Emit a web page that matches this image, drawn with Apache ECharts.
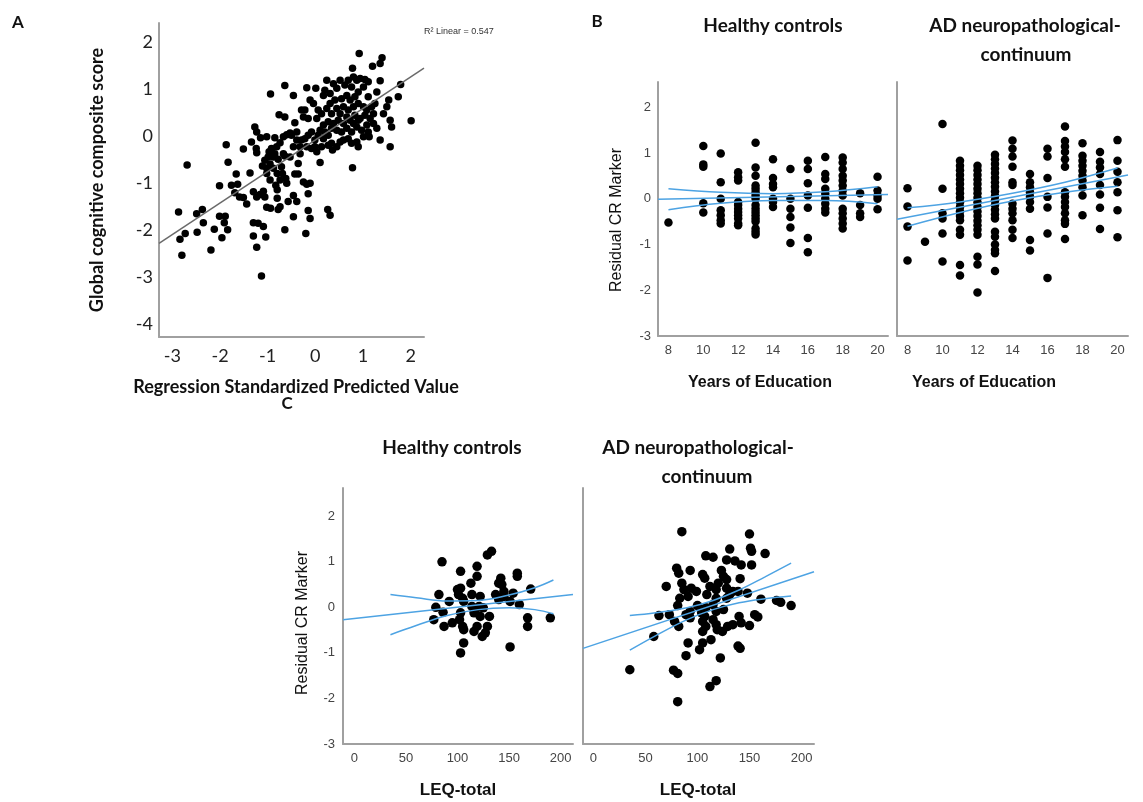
<!DOCTYPE html>
<html>
<head>
<meta charset="utf-8">
<script src="https://cdn.jsdelivr.net/npm/echarts@6/dist/echarts.min.js"></script>
<style>
  html, body { margin: 0; padding: 0; background: #fff; }
  #chart { width: 1143px; height: 802px; }
</style>
</head>
<body>
<div id="chart"></div>
<script>
// ---- Panel A: predicted vs observed global cognition ----
const aTicksX = [-3, -2, -1, 0, 1, 2];
const aTicksY = [-4, -3, -2, -1, 0, 1, 2];
const aPoints = [
  [-2.87,-1.62],[-2.84,-2.2],[-2.73,-2.08],[-2.8,-2.54],[-2.69,-0.62],[-2.49,-1.66],[-2.37,-1.57],[-2.48,-2.05],
  [-2.35,-1.85],[-2.12,-1.99],[-2.19,-2.43],[-2.01,-1.71],[-1.89,-1.71],[-1.91,-1.85],[-1.84,-2.0],[-1.96,-2.17],
  [-2.01,-1.06],[-1.87,-0.19],[-1.83,-0.56],[-1.76,-1.05],[-1.63,-1.03],[-1.66,-0.81],[-1.69,-1.21],[-1.59,-1.3],
  [-1.51,-1.31],[-1.44,-1.45],[-1.51,-0.28],[-1.37,-0.79],[-1.34,-0.13],[-1.27,0.19],[-1.23,0.08],[-1.24,-0.27],
  [-1.23,-0.36],[-1.15,-0.04],[-1.02,-0.02],[-0.94,0.89],[-1.3,-1.19],[-1.23,-1.3],[-1.16,-1.25],[-1.09,-1.18],
  [-1.3,-1.85],[-1.2,-1.86],[-1.09,-1.93],[-1.3,-2.13],[-1.23,-2.37],[-1.04,-2.15],[-1.13,-2.98],[-1.06,-1.3],
  [-1.02,-0.69],[-0.95,-0.6],[-0.99,-0.45],[-0.88,-0.45],[-0.85,-0.04],[-0.81,-0.23],[-0.74,-0.15],[-0.85,-0.38],
  [-0.78,-0.5],[-0.71,-0.66],[-0.8,-0.8],[-0.74,-0.94],[-0.83,-1.05],[-0.95,-0.94],[-1.02,-0.8],[-0.88,-0.69],
  [-0.8,-1.15],[-0.8,-1.33],[-1.02,-1.52],[-0.94,-1.54],[-0.78,-1.57],[-0.74,-1.51],[-0.67,-0.38],[-0.64,-0.43],
  [-0.69,-0.8],[-0.62,-0.91],[-0.6,-1.01],[-0.76,0.45],[-0.64,0.4],[-0.64,1.07],[-0.46,0.86],[-0.67,-0.02],
  [-0.6,0.02],[-0.53,0.06],[-0.43,0.28],[-0.46,-0.23],[-0.53,-0.45],[-0.43,-0.81],[-0.36,-0.81],[-0.46,-1.27],
  [-0.57,-1.4],[-0.46,-1.72],[-0.64,-2.0],[-0.39,-1.4],[-0.25,-0.98],[-0.18,-1.03],[-0.15,-1.23],[-0.11,-1.01],
  [-0.15,-1.59],[-0.11,-1.76],[-0.2,-2.08],[0.1,-0.57],[0.26,-1.57],[0.31,-1.69],[0.78,-0.68],[-0.32,-0.38],
  [-0.36,-0.59],[-0.32,-0.23],[-0.29,-0.09],[-0.39,-0.09],[-0.22,-0.06],[-0.15,0.01],[-0.08,0.08],[-0.18,-0.23],
  [-0.08,-0.27],[-0.01,-0.23],[0.03,-0.34],[0.13,-0.23],[-0.01,-0.09],[0.06,0.01],[0.17,-0.06],[0.2,0.08],
  [0.27,0.01],[0.27,-0.2],[0.34,-0.16],[0.36,-0.3],[0.45,-0.23],[0.52,-0.13],[0.59,-0.09],[0.69,-0.06],
  [0.76,-0.16],[0.87,-0.13],[0.9,-0.23],[1.01,-0.02],[1.13,-0.02],[1.36,-0.09],[1.57,-0.23],[1.57,0.33],
  [1.6,0.19],[2.01,0.32],[1.74,0.83],[1.79,1.09],[0.92,1.75],[1.36,1.54],[1.4,1.66],[1.2,1.48],
  [0.78,1.44],[0.8,1.25],[1.36,1.17],[1.29,0.93],[1.11,0.83],[1.54,0.76],[1.5,0.62],[1.43,0.47],
  [0.24,1.18],[-0.18,1.02],[0.01,1.01],[-0.11,0.76],[-0.22,0.55],[-0.25,0.4],[-0.15,0.37],[-0.04,0.69],
  [0.06,0.55],[0.03,0.37],[0.13,0.47],[0.17,0.86],[0.2,0.97],[0.31,0.9],[0.38,1.11],[0.45,1.01],
  [0.52,1.18],[0.62,1.08],[0.69,1.18],[0.76,1.04],[0.87,1.18],[0.94,1.22],[1.04,1.2],[1.11,1.15],
  [1.01,1.04],[0.9,0.93],[0.83,0.83],[0.73,0.76],[0.66,0.86],[0.55,0.79],[0.41,0.76],[0.31,0.69],
  [0.24,0.58],[0.34,0.47],[0.45,0.58],[0.52,0.47],[0.59,0.62],[0.69,0.55],[0.8,0.62],[0.9,0.69],
  [1.01,0.62],[1.08,0.55],[1.18,0.62],[1.25,0.69],[1.22,0.47],[1.15,0.37],[1.04,0.44],[0.94,0.37],
  [0.83,0.44],[0.73,0.33],[0.66,0.4],[0.59,0.26],[0.48,0.33],[0.38,0.26],[0.27,0.3],[0.17,0.23],
  [0.1,0.12],[0.34,0.16],[0.45,0.12],[0.55,0.08],[0.66,0.16],[0.76,0.08],[0.87,0.19],[0.97,0.12],
  [1.08,0.23],[1.22,0.26],[1.29,0.16],[1.11,0.08],[0.8,0.26],[0.9,0.33],[-0.29,0.55],[-0.39,0.08],
  [-0.5,0.01],[-0.92,-0.27],[-0.97,-0.34],[-1.06,-0.52],[-1.11,-0.64]
];
const aFitLine = [[-3.28, -2.29], [2.28, 1.44]];

// ---- Panel B: years of education vs residual CR marker ----
const eduTicks = [8, 10, 12, 14, 16, 18, 20];
const resTicks = [-3, -2, -1, 0, 1, 2];
const hcEduYears = [8, 10, 11, 12, 13, 14, 15, 16, 17, 18, 19, 20];
const hcEduRes = [
  [-0.52],
  [1.15, 0.75, 0.7, -0.1, -0.3],
  [0.99, 0.36, 0, -0.25, -0.36, -0.47, -0.54],
  [0.58, 0.47, 0.4, -0.07, -0.14, -0.22, -0.29, -0.36, -0.43, -0.54, -0.58],
  [1.22, 0.68, 0.5, 0.29, 0.22, 0.14, 0.07, 0, -0.14, -0.22, -0.29, -0.36, -0.43, -0.5, -0.65, -0.72, -0.78],
  [0.86, 0.45, 0.32, 0.25, 0, -0.07, -0.18],
  [0.65, 0, -0.22, -0.4, -0.63, -0.97],
  [0.83, 0.65, 0.34, 0.07, -0.2, -0.86, -1.17],
  [0.91, 0.54, 0.43, 0.22, 0.11, 0, -0.11, -0.22, -0.3],
  [0.9, 0.79, 0.65, 0.5, 0.4, 0.29, 0.18, 0.07, -0.22, -0.32, -0.43, -0.54, -0.65],
  [0.12, -0.14, -0.32, -0.4],
  [0.48, 0.18, 0.07, 0, -0.23]
];
const adEduYears = [8, 9, 10, 11, 12, 13, 14, 15, 16, 17, 18, 19, 20];
const adEduRes = [
  [0.23, -0.17, -0.61, -1.35],
  [-0.94],
  [1.63, 0.22, -0.32, -0.43, -0.76, -1.37],
  [0.83, 0.72, 0.62, 0.52, 0.42, 0.32, 0.22, 0.12, 0.02, -0.08, -0.18, -0.28, -0.38, -0.47, -0.68, -0.79, -1.45, -1.68],
  [0.72, 0.62, 0.52, 0.42, 0.32, 0.22, 0.12, 0.02, -0.08, -0.18, -0.28, -0.38, -0.48, -0.58, -0.68, -0.79, -1.27, -1.44, -2.05],
  [0.96, 0.86, 0.76, 0.66, 0.56, 0.46, 0.36, 0.26, 0.16, 0.06, -0.04, -0.14, -0.24, -0.34, -0.43, -0.72, -0.83, -1.0, -1.12, -1.19, -1.58],
  [1.27, 1.09, 0.92, 0.7, 0.36, 0.3, -0.11, -0.22, -0.32, -0.47, -0.68, -0.86],
  [0.54, 0.36, 0.25, 0.14, 0.04, -0.07, -0.22, -0.9, -1.13],
  [1.09, 0.92, 0.45, 0.04, -0.19, -0.76, -1.73],
  [1.58, 1.26, 1.14, 1.02, 0.86, 0.7, 0.14, 0.04, -0.07, -0.18, -0.32, -0.47, -0.55, -0.88],
  [1.21, 0.94, 0.83, 0.72, 0.61, 0.5, 0.4, 0.25, 0.07, -0.36],
  [1.02, 0.81, 0.68, 0.54, 0.3, 0.09, -0.2, -0.66],
  [1.28, 0.83, 0.59, 0.36, 0.14, -0.25, -0.84]
];
const hcEduFit = [[7.4, -0.01], [20.6, 0.09]];
const adEduFit = [[7.4, -0.45], [20.6, 0.52]];
const ciEduX = [8, 11, 14, 17, 20];
const hcEduUpper = [0.22, 0.14, 0.11, 0.15, 0.26];
const hcEduLower = [-0.24, -0.1, -0.04, -0.04, -0.11];
const adEduUpper = [-0.2, -0.07, 0.12, 0.36, 0.67];
const adEduLower = [-0.6, -0.3, -0.05, 0.14, 0.27];

// ---- Panel C: LEQ-total vs residual CR marker ----
const leqTicks = [0, 50, 100, 150, 200];
const hcLeq = [
  [85,1.0],[103,0.79],[119,0.9],[119,0.68],[129,1.15],[133,1.23],[82,0.28],[79,0],[77,-0.27],[86,-0.11],
  [87,-0.42],[92,0.13],[95,-0.34],[100,0.39],[101,0.28],[103,0.42],[105,0.2],[106,0.13],[103,-0.12],[102,-0.27],
  [105,-0.42],[106,-0.49],[106,-0.78],[103,-1.0],[113,0.53],[114,0.28],[114,0.02],[116,-0.12],[116,-0.53],[117,-0.09],
  [119,-0.42],[121,0.02],[122,0.24],[122,-0.2],[124,-0.64],[125,-0.01],[127,-0.56],[129,-0.42],[131,-0.2],[137,0.28],
  [140,0.53],[142,0.64],[143,0.5],[140,0.17],[145,0.35],[145,0.24],[151,0.13],[154,0.31],[158,0.68],[158,0.75],
  [160,0.06],[168,-0.23],[168,-0.42],[171,0.4],[190,-0.23],[151,-0.87]
];
const adLeq = [
  [85,1.66],[150,1.61],[151,1.3],[152,1.23],[131,1.28],[165,1.18],[108,1.13],[115,1.1],[128,1.04],[136,1.02],
  [142,0.93],[152,0.93],[80,0.86],[82,0.75],[93,0.81],[123,0.81],[105,0.72],[107,0.64],[125,0.68],[128,0.61],
  [141,0.63],[70,0.46],[85,0.53],[87,0.39],[94,0.42],[99,0.35],[112,0.46],[120,0.53],[118,0.39],[128,0.42],
  [134,0.35],[139,0.35],[148,0.31],[83,0.2],[91,0.24],[109,0.28],[118,0.2],[128,0.2],[131,0.28],[161,0.18],
  [176,0.15],[180,0.11],[190,0.04],[81,0.04],[100,0.04],[108,-0.01],[115,0.06],[93,-0.09],[104,-0.12],[107,-0.2],
  [118,-0.09],[125,-0.05],[63,-0.18],[73,-0.16],[78,-0.31],[82,-0.42],[89,-0.16],[93,-0.23],[105,-0.31],[108,-0.42],
  [115,-0.27],[118,-0.38],[119,-0.49],[124,-0.53],[129,-0.42],[134,-0.38],[140,-0.2],[142,-0.34],[150,-0.4],[155,-0.16],
  [158,-0.21],[105,-0.53],[58,-0.64],[91,-0.78],[105,-0.78],[102,-0.93],[113,-0.71],[139,-0.85],[141,-0.9],[89,-1.06],
  [122,-1.11],[35,-1.37],[77,-1.38],[81,-1.45],[118,-1.61],[112,-1.74],[81,-2.07]
];
const hcLeqFit = [[-11, -0.27], [212, 0.28]];
const adLeqFit = [[-10, -0.9], [212, 0.78]];
const hcCiX = [35, 60, 90, 120, 150, 175, 193];
const hcLeqUpper = [0.28, 0.21, 0.14, 0.15, 0.27, 0.43, 0.6];
const hcLeqLower = [-0.6, -0.4, -0.18, -0.05, -0.01, -0.05, -0.14];
const adCiX = [35, 60, 90, 115, 140, 165, 190];
const adLeqUpper = [-0.18, -0.12, -0.01, 0.15, 0.38, 0.67, 0.97];
const adLeqLower = [-0.94, -0.62, -0.27, -0.05, 0.1, 0.19, 0.25];

const chart = echarts.init(document.getElementById('chart'));

const BLUE = '#4da3e3';
const LABEL_FONT = 'Liberation Sans';

function axis(gridIndex, min, max, ticks, label) {
  return {
    type: 'value',
    gridIndex: gridIndex,
    min: min,
    max: max,
    splitLine: { show: false },
    axisTick: { show: false },
    axisLine: { show: true, onZero: false, lineStyle: { color: '#a0a0a0', width: 2 } },
    axisLabel: Object.assign({
      show: !!ticks,
      customValues: ticks || [],
      color: '#444',
      fontSize: 13,
      fontFamily: LABEL_FONT,
      margin: 8
    }, label || {})
  };
}

function pairs(xs, ys) {
  return xs.map((x, i) => [x, ys[i]]);
}

function columns(years, values) {
  const out = [];
  years.forEach((yr, i) => values[i].forEach(v => out.push([yr, v])));
  return out;
}

function dots(idx, data, size) {
  return {
    type: 'scatter', xAxisIndex: idx, yAxisIndex: idx, data: data,
    symbolSize: size, itemStyle: { color: '#000', opacity: 1 }, silent: true, z: 2
  };
}

function line(idx, data, color, smooth) {
  return {
    type: 'line', xAxisIndex: idx, yAxisIndex: idx, data: data,
    showSymbol: false, smooth: smooth || false, silent: true, z: 3,
    lineStyle: { color: color, width: 1.5 }
  };
}

function txt(x, y, text, font, rot) {
  return {
    type: 'text', x: x, y: y, rotation: rot || 0, silent: true,
    style: { text: text, font: font, fill: '#111', align: 'center', verticalAlign: 'middle',
             textAlign: 'center', textVerticalAlign: 'middle' }
  };
}

const bigLabel = { color: '#222', fontSize: 18, fontFamily: 'Lato', margin: 10 };

const option = {
  backgroundColor: '#fff',
  animation: false,
  grid: [
    { left: 159, top: 23, width: 265, height: 314, outerBoundsMode: 'none' },
    { left: 658, top: 82, width: 230, height: 254, outerBoundsMode: 'none' },
    { left: 897, top: 82, width: 231, height: 254, outerBoundsMode: 'none' },
    { left: 343, top: 488, width: 230, height: 256, outerBoundsMode: 'none' },
    { left: 583, top: 488, width: 231, height: 256, outerBoundsMode: 'none' }
  ],
  xAxis: [
    axis(0, -3.28, 2.28, aTicksX, bigLabel),
    axis(1, 7.4, 20.6, eduTicks),
    axis(2, 7.4, 20.6, eduTicks),
    axis(3, -11, 212, leqTicks),
    axis(4, -10, 212, leqTicks)
  ],
  yAxis: [
    axis(0, -4.28, 2.4, aTicksY, Object.assign({}, bigLabel, { margin: 6 })),
    axis(1, -3, 2.55, resTicks, { margin: 7 }),
    axis(2, -3, 2.55, null),
    axis(3, -3, 2.62, resTicks, { margin: 8 }),
    axis(4, -3, 2.62, null)
  ],
  series: [
    dots(0, aPoints, 7.5),
    line(0, aFitLine, '#6a6a6a'),
    dots(1, columns(hcEduYears, hcEduRes), 8.5),
    line(1, hcEduFit, BLUE),
    line(1, pairs(ciEduX, hcEduUpper), BLUE, 0.4),
    line(1, pairs(ciEduX, hcEduLower), BLUE, 0.4),
    dots(2, columns(adEduYears, adEduRes), 8.5),
    line(2, adEduFit, BLUE),
    line(2, pairs(ciEduX, adEduUpper), BLUE, 0.4),
    line(2, pairs(ciEduX, adEduLower), BLUE, 0.4),
    dots(3, hcLeq, 9.5),
    line(3, hcLeqFit, BLUE),
    line(3, pairs(hcCiX, hcLeqUpper), BLUE, 0.4),
    line(3, pairs(hcCiX, hcLeqLower), BLUE, 0.4),
    dots(4, adLeq, 9.5),
    line(4, adLeqFit, BLUE),
    line(4, pairs(adCiX, adLeqUpper), BLUE, 0.4),
    line(4, pairs(adCiX, adLeqLower), BLUE, 0.4)
  ],
  graphic: [
    txt(18, 23, 'A', 'bold 17px Lato'),
    txt(597, 22, 'B', 'bold 17px Lato'),
    txt(287, 404, 'C', 'bold 17px Lato'),
    txt(97, 180, 'Global cognitive composite score', 'bold 18px Lato', Math.PI / 2),
    txt(296, 387, 'Regression Standardized Predicted Value', 'bold 18px Lato'),
    {
      type: 'text', x: 424, y: 32, silent: true,
      style: { text: 'R² Linear = 0.547', font: '9px Liberation Sans', fill: '#333',
               align: 'left', verticalAlign: 'middle', textAlign: 'left', textVerticalAlign: 'middle' }
    },
    txt(773, 26, 'Healthy controls', 'bold 19px Lato'),
    txt(1025, 26, 'AD neuropathological-', 'bold 19px Lato'),
    txt(1026, 55, 'continuum', 'bold 19px Lato'),
    txt(617, 220, 'Residual CR Marker', '16px Liberation Sans', Math.PI / 2),
    txt(760, 383, 'Years of Education', 'bold 16px Liberation Sans'),
    txt(984, 383, 'Years of Education', 'bold 16px Liberation Sans'),
    txt(452, 448, 'Healthy controls', 'bold 19px Lato'),
    txt(698, 448, 'AD neuropathological-', 'bold 19px Lato'),
    txt(707, 477, 'continuum', 'bold 19px Lato'),
    txt(303, 623, 'Residual CR Marker', '16px Liberation Sans', Math.PI / 2),
    txt(458, 790, 'LEQ-total', 'bold 17px Liberation Sans'),
    txt(698, 790, 'LEQ-total', 'bold 17px Liberation Sans')
  ]
};

chart.setOption(option);
</script>
</body>
</html>
